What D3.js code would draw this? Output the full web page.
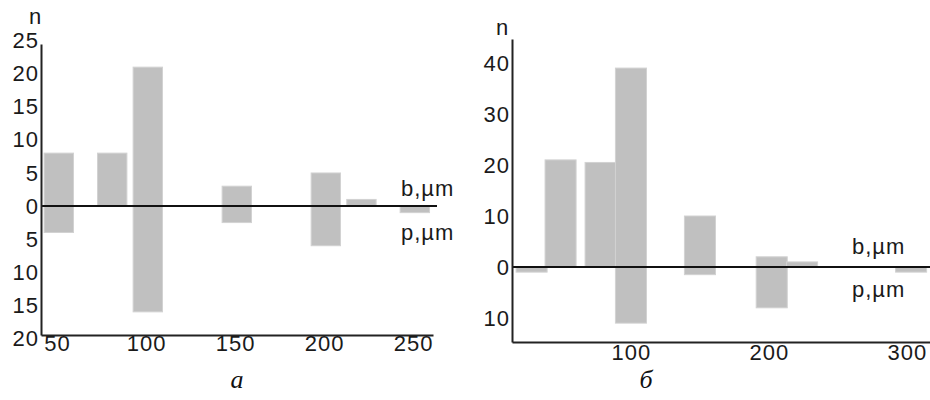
<!DOCTYPE html>
<html>
<head>
<meta charset="utf-8">
<script src="https://cdn.jsdelivr.net/npm/d3@7"></script>
<style>
  html, body { margin: 0; padding: 0; background: #fff; }
  svg { display: block; }
  .tick text { font-family: "Liberation Sans", Arial, sans-serif; fill: #1a1a1a; }
</style>
</head>
<body>
<svg id="chart" width="930" height="400"></svg>
<script>
// ---------- Data ----------
// Panel "а"
const binsA   = [51, 81, 101, 151, 201, 221, 251];   // bin centres, µm
const bA      = [8, 8, 21, 3, 5, 1, 0];              // counts above axis (b, µm)
const pA      = [4, 0, 16, 2.5, 6, 0, 1];            // counts below axis (p, µm)
const yTicksA = [25, 20, 15, 10, 5, 0, -5, -10, -15, -20];
const xTicksA = [50, 100, 150, 200, 250];

// Panel "б"
const binsB   = [28, 49, 78, 100, 150, 202, 224, 303];
const bB      = [0, 21, 20.5, 39, 10, 2, 1, 0];
const pB      = [1, 0, 0, 11, 1.5, 8, 0, 1];
const yTicksB = [40, 30, 20, 10, 0, -10];
const xTicksB = [100, 200, 300];

const labelsTop = "b,\u00b5m";
const labelsBot = "p,\u00b5m";
const yName = "n";
const captions = ["а", "б"];

// ---------- Drawing ----------
const svg = d3.select("#chart");
const barColor = "#c0c0c0";
const fontFam = "'Liberation Sans', Arial, sans-serif";
const txtColor = "#1a1a1a";

function panel(cfg) {
  const g = svg.append("g");
  const x = d3.scaleLinear().domain(cfg.xDomain).range(cfg.xRange);
  const y = d3.scaleLinear().domain(cfg.yDomain).range(cfg.yRange);
  const bw = x(cfg.binW) - x(0);

  const rows = cfg.bins.map((c, i) => ({c, b: cfg.b[i], p: cfg.p[i]}));

  // bars above
  g.selectAll("rect.up").data(rows.filter(d => d.b > 0)).join("rect")
    .attr("class", "up")
    .attr("x", d => x(d.c) - bw / 2)
    .attr("width", bw)
    .attr("y", d => y(d.b))
    .attr("height", d => y(0) - y(d.b))
    .attr("fill", barColor).attr("stroke", "#d2d2d2").attr("stroke-width", 1);
  // bars below
  g.selectAll("rect.dn").data(rows.filter(d => d.p > 0)).join("rect")
    .attr("class", "dn")
    .attr("x", d => x(d.c) - bw / 2)
    .attr("width", bw)
    .attr("y", y(0))
    .attr("height", d => y(-d.p) - y(0))
    .attr("fill", barColor).attr("stroke", "#d2d2d2").attr("stroke-width", 1);

  // zero line
  g.append("line")
    .attr("x1", cfg.xRange[0]).attr("x2", cfg.zeroEnd)
    .attr("y1", y(0)).attr("y2", y(0))
    .attr("stroke", "#111").attr("stroke-width", 2);

  // y axis
  const ya = g.append("g")
    .attr("transform", `translate(${cfg.xRange[0]},0)`)
    .call(d3.axisLeft(y).tickValues(cfg.yTicks).tickSize(0).tickPadding(2)
      .tickFormat(d => Math.abs(d)));
  ya.select(".domain").attr("stroke", "#222").attr("stroke-width", 2);
  ya.selectAll(".tick text").attr("font-size", cfg.fs).attr("font-family", fontFam)
    .attr("letter-spacing", 1);

  // x axis
  const xa = g.append("g")
    .attr("transform", `translate(0,${cfg.yRange[0]})`)
    .call(d3.axisBottom(x).tickValues(cfg.xTicks).tickSize(0).tickPadding(cfg.xPad));
  xa.select(".domain").attr("stroke", "#222").attr("stroke-width", 2);
  xa.selectAll(".tick text").attr("font-size", cfg.fs).attr("font-family", fontFam)
    .attr("letter-spacing", 1);

  // labels
  g.append("text").text(yName)
    .attr("x", cfg.nPos[0]).attr("y", cfg.nPos[1])
    .attr("text-anchor", "middle").attr("font-size", cfg.fs)
    .attr("font-family", fontFam).attr("fill", txtColor);
  g.append("text").text(labelsTop)
    .attr("x", cfg.lblX).attr("y", cfg.lblY[0])
    .attr("font-size", cfg.fs).attr("dominant-baseline", "middle").attr("letter-spacing", 1)
    .attr("font-family", fontFam).attr("fill", txtColor);
  g.append("text").text(labelsBot)
    .attr("x", cfg.lblX).attr("y", cfg.lblY[1])
    .attr("font-size", cfg.fs).attr("dominant-baseline", "middle").attr("letter-spacing", 1)
    .attr("font-family", fontFam).attr("fill", txtColor);

  // caption
  g.append("text").text(cfg.caption)
    .attr("x", cfg.capX).attr("y", 388)
    .attr("text-anchor", "middle")
    .attr("font-family", "'Liberation Serif', 'Times New Roman', serif")
    .attr("font-style", "italic").attr("font-size", 26).attr("fill", "#111");
}

panel({
  bins: binsA, b: bA, p: pA, yTicks: yTicksA, xTicks: xTicksA,
  xDomain: [41.0, 261.2], xRange: [41, 433],
  yDomain: [-19.5, 24.5], yRange: [335, 44],
  binW: 16.5, zeroEnd: 437, fs: 22, xPad: 0,
  nPos: [35, 24], lblX: 401, lblY: [190, 234], caption: captions[0], capX: 237
});

panel({
  bins: binsB, b: bB, p: pB, yTicks: yTicksB, xTicks: xTicksB,
  xDomain: [13.8, 316.7], xRange: [512, 930],
  yDomain: [-14.7, 44.7], yRange: [342, 39],
  binW: 22.5, zeroEnd: 930, fs: 22, xPad: 2,
  nPos: [502, 35], lblX: 852, lblY: [248, 291], caption: captions[1], capX: 646
});
</script>
</body>
</html>
